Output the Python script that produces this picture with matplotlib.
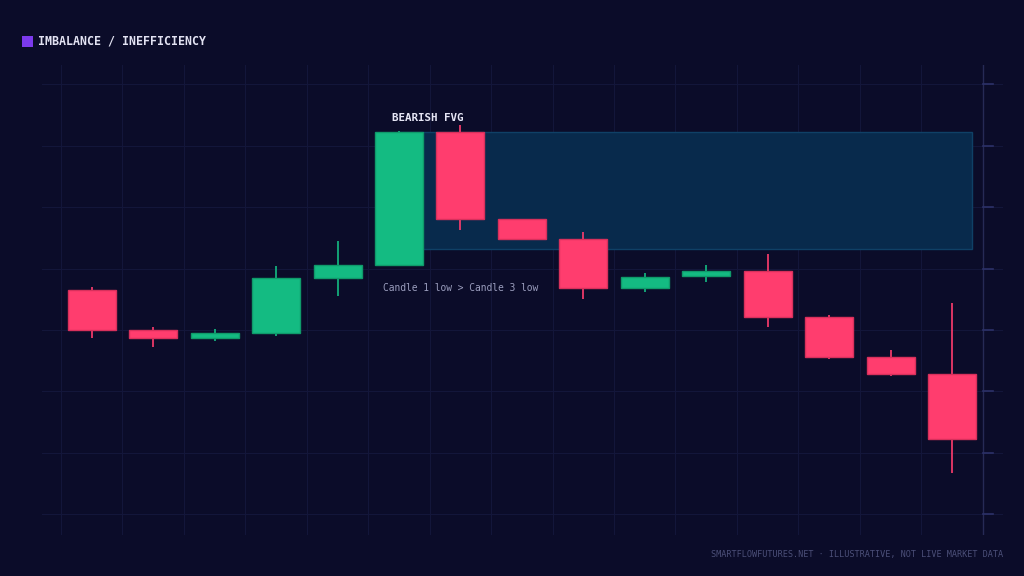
import numpy as np
import matplotlib
matplotlib.use("Agg")
import matplotlib.pyplot as plt
from matplotlib.patches import Rectangle

# candle data (open, high, low, close)
opens  = [101.30, 100.00, 99.74, 99.90, 101.69, 102.12, 106.45, 103.62, 102.96, 101.37, 101.76, 101.92, 100.42, 99.12, 98.57]
highs  = [101.40, 100.10, 100.03, 102.08, 102.90, 106.48, 106.68, 103.62, 103.19, 101.86, 102.12, 102.48, 100.49, 99.35, 100.88]
lows   = [99.74, 99.45, 99.64, 99.80, 101.11, 102.12, 103.26, 102.96, 101.01, 101.24, 101.56, 100.10, 99.06, 98.50, 95.34]
closes = [100.00, 99.74, 99.90, 101.69, 102.12, 106.45, 103.62, 102.96, 101.37, 101.73, 101.92, 100.42, 99.12, 98.57, 96.45]

# fair value gap zone
fvg_top = 106.45
fvg_bottom = 102.64
fvg_start = 5       # candle index where zone starts
fvg_end = 14.33

price_ticks = [94, 96, 98, 100, 102, 104, 106, 108]

BG = "#0b0c29"
GREEN = "#14bb82"
RED = "#ff3d6e"
GRID = "#13163a"

fig = plt.figure(figsize=(10.24, 5.76), dpi=100, facecolor=BG)
ax = fig.add_axes([42/1024, 41/576, 961/1024, 470/576])
ax.set_facecolor(BG)

n = len(opens)
x = np.arange(n)
w = 0.78

# gridlines
for gx in np.arange(-0.5, n, 1.0):
    ax.axvline(gx, color=GRID, lw=0.8, zorder=0)
for gy in price_ticks:
    ax.axhline(gy, color=GRID, lw=0.8, zorder=0)

# fvg zone
ax.add_patch(Rectangle((fvg_start, fvg_bottom), fvg_end - fvg_start, fvg_top - fvg_bottom,
                       facecolor="#082a4c", edgecolor="#0f4066", lw=1, zorder=1))

for i in range(n):
    up = closes[i] >= opens[i]
    c = GREEN if up else RED
    ec = "#0f9a6a" if up else "#d8305c"
    ax.vlines(x[i], lows[i], highs[i], color=c, lw=1.2, zorder=2)
    lo = min(opens[i], closes[i])
    h = abs(closes[i] - opens[i])
    ax.add_patch(Rectangle((x[i] - w/2, lo), w, h, facecolor=c, edgecolor=ec, lw=1, zorder=3))

# right price axis line with tick marks
ax.axvline(14.5, color="#262a55", lw=1, zorder=4)
for gy in price_ticks:
    ax.plot([14.5, 14.66], [gy, gy], color="#2c3168", lw=1.2, zorder=4)

ax.set_xlim(-0.81, 14.83)
ax.set_ylim(93.32, 108.63)
ax.set_xticks([])
ax.set_yticks([])
for s in ax.spines.values():
    s.set_visible(False)

mono = "DejaVu Sans Mono"
ax.text(4.89, 106.75, "BEARISH FVG", color="#e6e6f5", fontsize=7.8, fontweight="bold",
        family=mono, va="bottom", ha="left")
ax.text(4.74, 101.38, "Candle 1 low > Candle 3 low", color="#9a9dbd", fontsize=6.95,
        family=mono, va="center", ha="left")

# header
fig.patches.append(Rectangle((22/1024, 1 - 47/576), 11/1024, 11/576, transform=fig.transFigure,
                             facecolor="#7c3aed", edgecolor="none"))
fig.text(38/1024, 1 - 41/576, "IMBALANCE / INEFFICIENCY", color="#e2e2f2", fontsize=8.4,
         fontweight="bold", family=mono, va="center", ha="left")

fig.text(1003/1024, 1 - 555/576, "SMARTFLOWFUTURES.NET \u00b7 ILLUSTRATIVE, NOT LIVE MARKET DATA",
         color="#4b4f78", fontsize=6.15, family=mono, va="center", ha="right")

fig.savefig("out.png", dpi=100, facecolor=BG)
